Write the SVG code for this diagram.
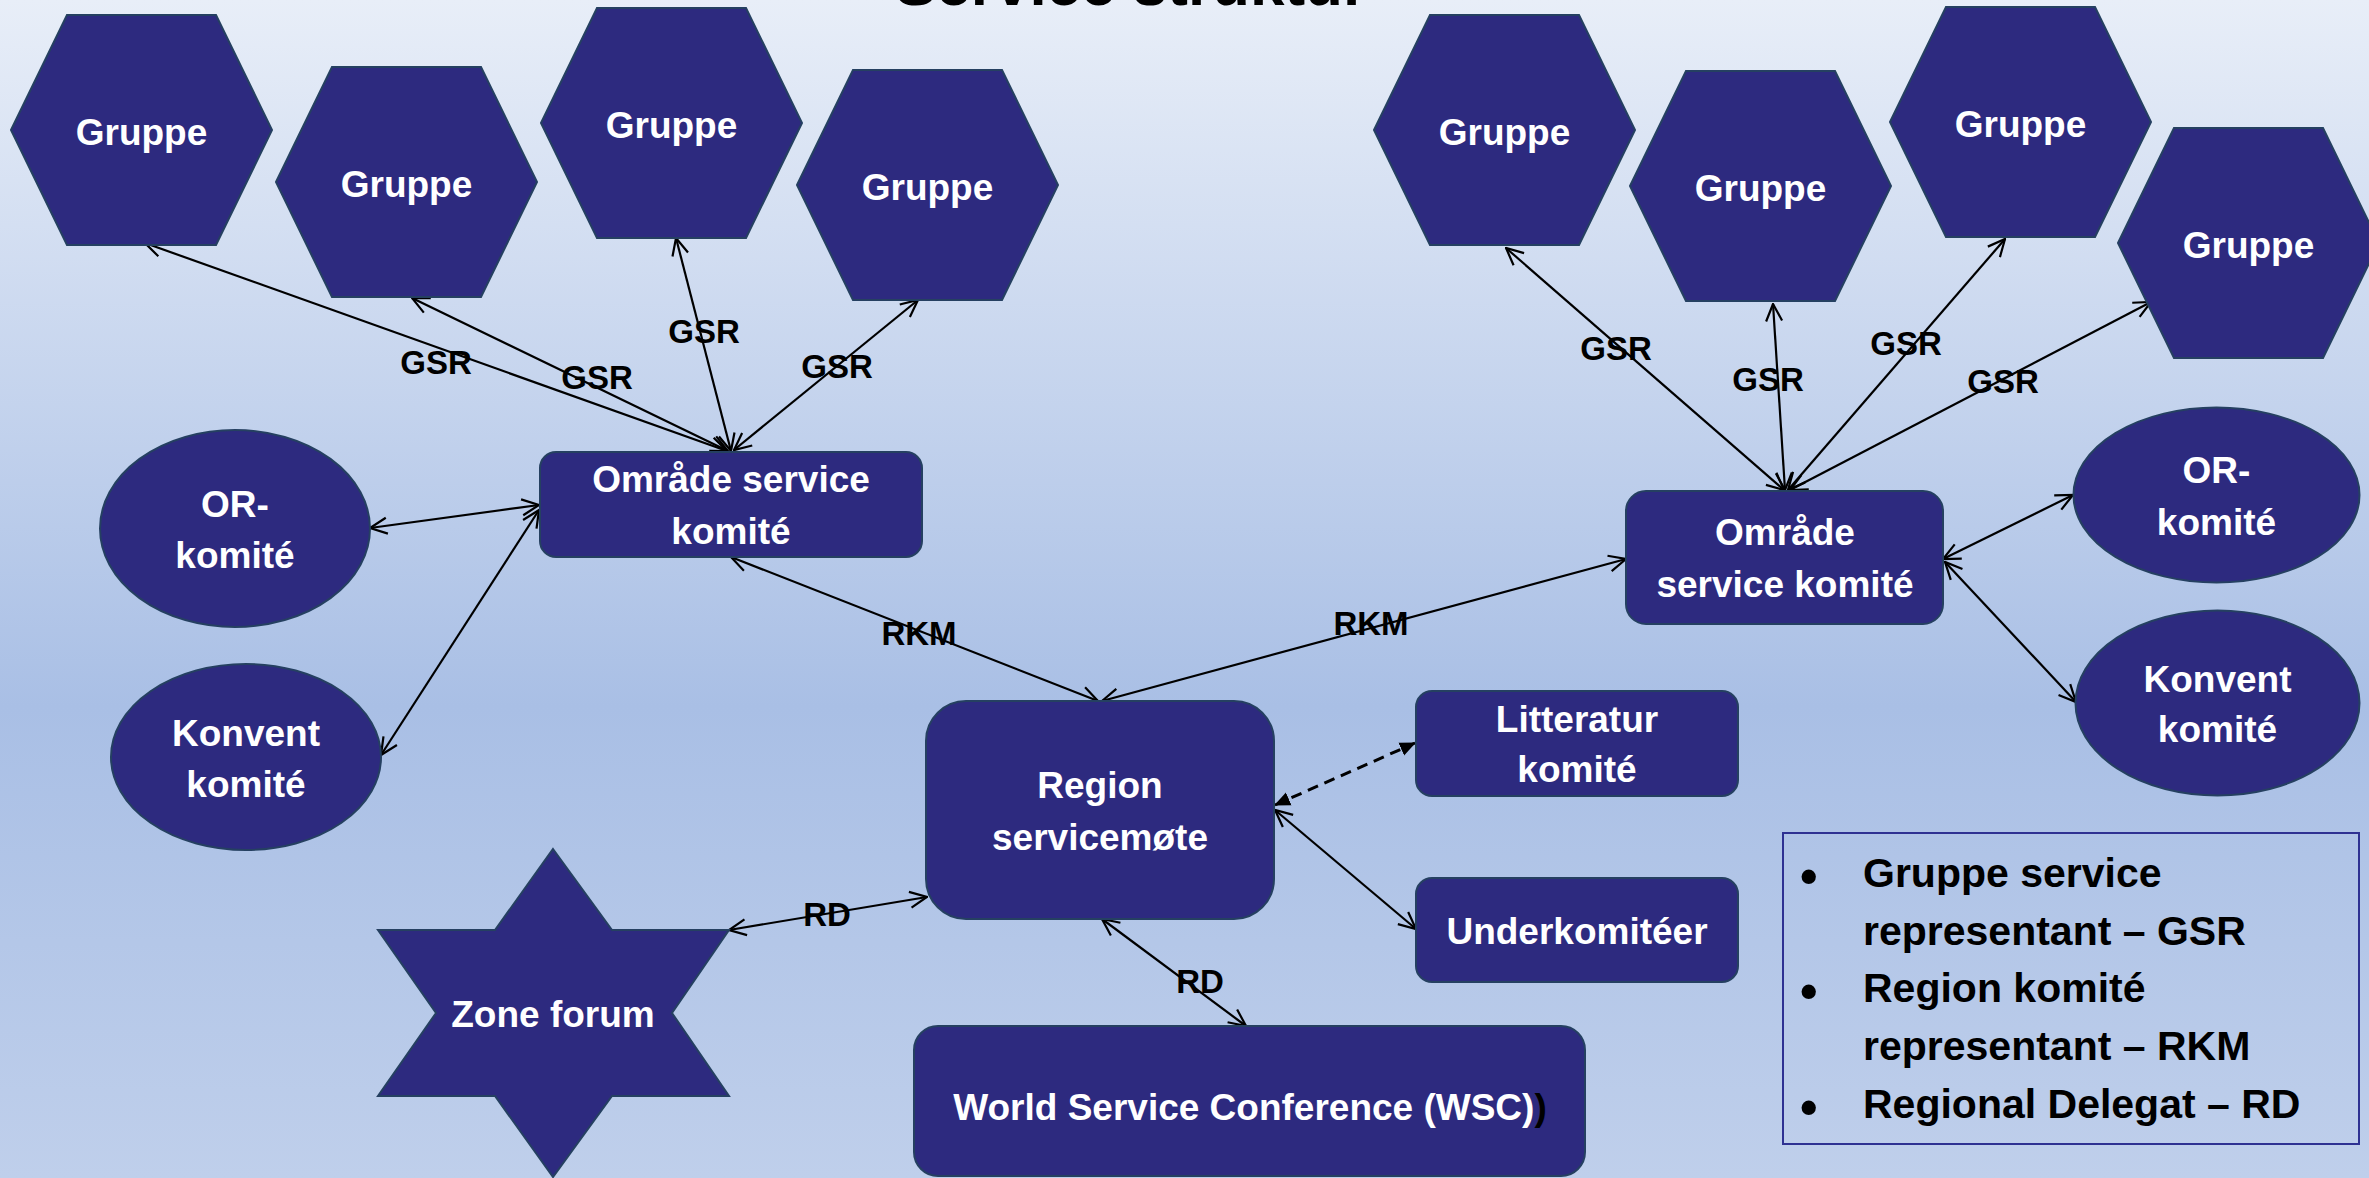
<svg xmlns="http://www.w3.org/2000/svg" width="2369" height="1178" viewBox="0 0 2369 1178">
<defs>
<linearGradient id="bg" x1="0" y1="0" x2="0" y2="1">
<stop offset="0" stop-color="#e8eef8"/>
<stop offset="0.6" stop-color="#a9bfe5"/>
<stop offset="1" stop-color="#bfcfeb"/>
</linearGradient>
<marker id="arr" viewBox="0 0 20 20" refX="19" refY="10" markerWidth="20" markerHeight="20" markerUnits="userSpaceOnUse" orient="auto-start-reverse">
<path d="M2,2 L19,10 L2,18" fill="none" stroke="#000" stroke-width="2.2"/>
</marker>
<marker id="tri" viewBox="0 0 16 16" refX="15" refY="8" markerWidth="16" markerHeight="16" markerUnits="userSpaceOnUse" orient="auto-start-reverse">
<path d="M0,1 L16,8 L0,15 Z" fill="#000"/>
</marker>
</defs>
<style>
.n{fill:#2d2a7f;stroke:#254061;stroke-width:2}
.t{font-family:"Liberation Sans",Arial,sans-serif;font-weight:bold;font-size:37px;fill:#fff;text-anchor:middle}
.l{font-family:"Liberation Sans",Arial,sans-serif;font-weight:bold;font-size:33px;fill:#000;text-anchor:middle}
.g{font-family:"Liberation Sans",Arial,sans-serif;font-weight:bold;font-size:41px;fill:#000}
.b{font-family:"Liberation Sans",Arial,sans-serif;font-weight:bold;font-size:50px;fill:#000}
.c{fill:none;stroke:#000;stroke-width:2.2;marker-start:url(#arr);marker-end:url(#arr)}
.d{fill:none;stroke:#000;stroke-width:3;stroke-dasharray:11 7;marker-start:url(#tri);marker-end:url(#tri)}
</style>
<rect x="0" y="0" width="2369" height="1178" fill="url(#bg)"/>
<text x="1131" y="5" font-family="'Liberation Sans',Arial,sans-serif" font-weight="bold" font-size="62" text-anchor="middle" fill="#000">Service struktur</text>

<g id="connectors">
<line class="c" x1="145" y1="243" x2="727" y2="451"/>
<line class="c" x1="412" y1="298" x2="728" y2="451"/>
<line class="c" x1="676" y1="238" x2="731" y2="451"/>
<line class="c" x1="918" y1="300" x2="734" y2="450"/>
<line class="c" x1="370" y1="528" x2="539" y2="505"/>
<line class="c" x1="539" y1="510" x2="381" y2="755"/>
<line class="c" x1="731" y1="557" x2="1098" y2="701"/>
<line class="c" x1="1102" y1="701" x2="1626" y2="559"/>
<line class="c" x1="1506" y1="248" x2="1784" y2="490"/>
<line class="c" x1="1773" y1="304" x2="1785" y2="490"/>
<line class="c" x1="2005" y1="239" x2="1788" y2="490"/>
<line class="c" x1="2151" y1="302" x2="1790" y2="490"/>
<line class="c" x1="1943" y1="559" x2="2073" y2="495"/>
<line class="c" x1="1945" y1="562" x2="2076" y2="702"/>
<line class="c" x1="729" y1="930" x2="927" y2="897"/>
<line class="c" x1="1102" y1="919" x2="1246" y2="1026"/>
<line class="c" x1="1275" y1="810" x2="1416" y2="929"/>
<line class="d" x1="1275" y1="805" x2="1415" y2="743"/>
<text class="l" x="436" y="374">GSR</text>
<text class="l" x="597" y="389">GSR</text>
<text class="l" x="704" y="343">GSR</text>
<text class="l" x="837" y="378">GSR</text>
<text class="l" x="1616" y="360">GSR</text>
<text class="l" x="1768" y="391">GSR</text>
<text class="l" x="1906" y="355">GSR</text>
<text class="l" x="2003" y="393">GSR</text>
<text class="l" x="919" y="645">RKM</text>
<text class="l" x="1371" y="635">RKM</text>
<text class="l" x="827" y="926">RD</text>
<text class="l" x="1200" y="993">RD</text>
</g>

<g id="gruppe1" transform="translate(11,15)"><polygon class="n" points="0,115 56,0 205,0 261,115 205,230 56,230"/><text class="t" x="130.5" y="130">Gruppe</text></g>
<g id="gruppe2" transform="translate(276,67)"><polygon class="n" points="0,115 56,0 205,0 261,115 205,230 56,230"/><text class="t" x="130.5" y="130">Gruppe</text></g>
<g id="gruppe3" transform="translate(541,8)"><polygon class="n" points="0,115 56,0 205,0 261,115 205,230 56,230"/><text class="t" x="130.5" y="130">Gruppe</text></g>
<g id="gruppe4" transform="translate(797,70)"><polygon class="n" points="0,115 56,0 205,0 261,115 205,230 56,230"/><text class="t" x="130.5" y="130">Gruppe</text></g>
<g id="gruppe5" transform="translate(1374,15)"><polygon class="n" points="0,115 56,0 205,0 261,115 205,230 56,230"/><text class="t" x="130.5" y="130">Gruppe</text></g>
<g id="gruppe6" transform="translate(1630,71)"><polygon class="n" points="0,115 56,0 205,0 261,115 205,230 56,230"/><text class="t" x="130.5" y="130">Gruppe</text></g>
<g id="gruppe7" transform="translate(1890,7)"><polygon class="n" points="0,115 56,0 205,0 261,115 205,230 56,230"/><text class="t" x="130.5" y="130">Gruppe</text></g>
<g id="gruppe8" transform="translate(2118,128)"><polygon class="n" points="0,115 56,0 205,0 261,115 205,230 56,230"/><text class="t" x="130.5" y="130">Gruppe</text></g>

<g id="omrade-venstre"><rect class="n" x="540" y="452" width="382" height="105" rx="16"/><text class="t" x="731" y="492">Område service</text><text class="t" x="731" y="544">komité</text></g>
<g id="or-venstre"><ellipse class="n" cx="235" cy="528.5" rx="135" ry="98.5"/><text class="t" x="235" y="517">OR-</text><text class="t" x="235" y="568">komité</text></g>
<g id="konvent-venstre"><ellipse class="n" cx="246" cy="757" rx="135" ry="93"/><text class="t" x="246" y="746">Konvent</text><text class="t" x="246" y="797">komité</text></g>
<g id="region"><rect class="n" x="926" y="701" width="348" height="218" rx="40"/><text class="t" x="1100" y="798">Region</text><text class="t" x="1100" y="850">servicemøte</text></g>
<g id="zone-forum"><polygon class="n" points="553,849 612,930 729,930 672,1013 729,1096 612,1096 553,1177 495,1096 378,1096 436,1013 378,930 495,930"/><text class="t" x="553" y="1027">Zone forum</text></g>
<g id="wsc"><rect class="n" x="914" y="1026" width="671" height="150" rx="24"/><text class="t" x="1250" y="1120">World Service Conference (WSC)<tspan fill="#000">)</tspan></text></g>
<g id="litteratur"><rect class="n" x="1416" y="691" width="322" height="105" rx="16"/><text class="t" x="1577" y="732">Litteratur</text><text class="t" x="1577" y="782">komité</text></g>
<g id="underkomiteer"><rect class="n" x="1416" y="878" width="322" height="104" rx="16"/><text class="t" x="1577" y="944">Underkomitéer</text></g>
<g id="omrade-hoyre"><rect class="n" x="1626" y="491" width="317" height="133" rx="20"/><text class="t" x="1785" y="545">Område</text><text class="t" x="1785" y="597">service komité</text></g>
<g id="or-hoyre"><ellipse class="n" cx="2216.5" cy="495" rx="143" ry="87.5"/><text class="t" x="2216.5" y="483">OR-</text><text class="t" x="2216.5" y="535">komité</text></g>
<g id="konvent-hoyre"><ellipse class="n" cx="2217.5" cy="703" rx="142" ry="92.5"/><text class="t" x="2217.5" y="692">Konvent</text><text class="t" x="2217.5" y="742">komité</text></g>

<g id="legend">
<rect x="1783" y="833" width="576" height="311" fill="none" stroke="#2e3192" stroke-width="2"/>
<text class="b" x="1800" y="893">•</text><text class="g" x="1863" y="887">Gruppe service</text>
<text class="g" x="1863" y="945">representant – GSR</text>
<text class="b" x="1800" y="1008">•</text><text class="g" x="1863" y="1002">Region komité</text>
<text class="g" x="1863" y="1060">representant – RKM</text>
<text class="b" x="1800" y="1124">•</text><text class="g" x="1863" y="1118">Regional Delegat – RD</text>
</g>
</svg>
